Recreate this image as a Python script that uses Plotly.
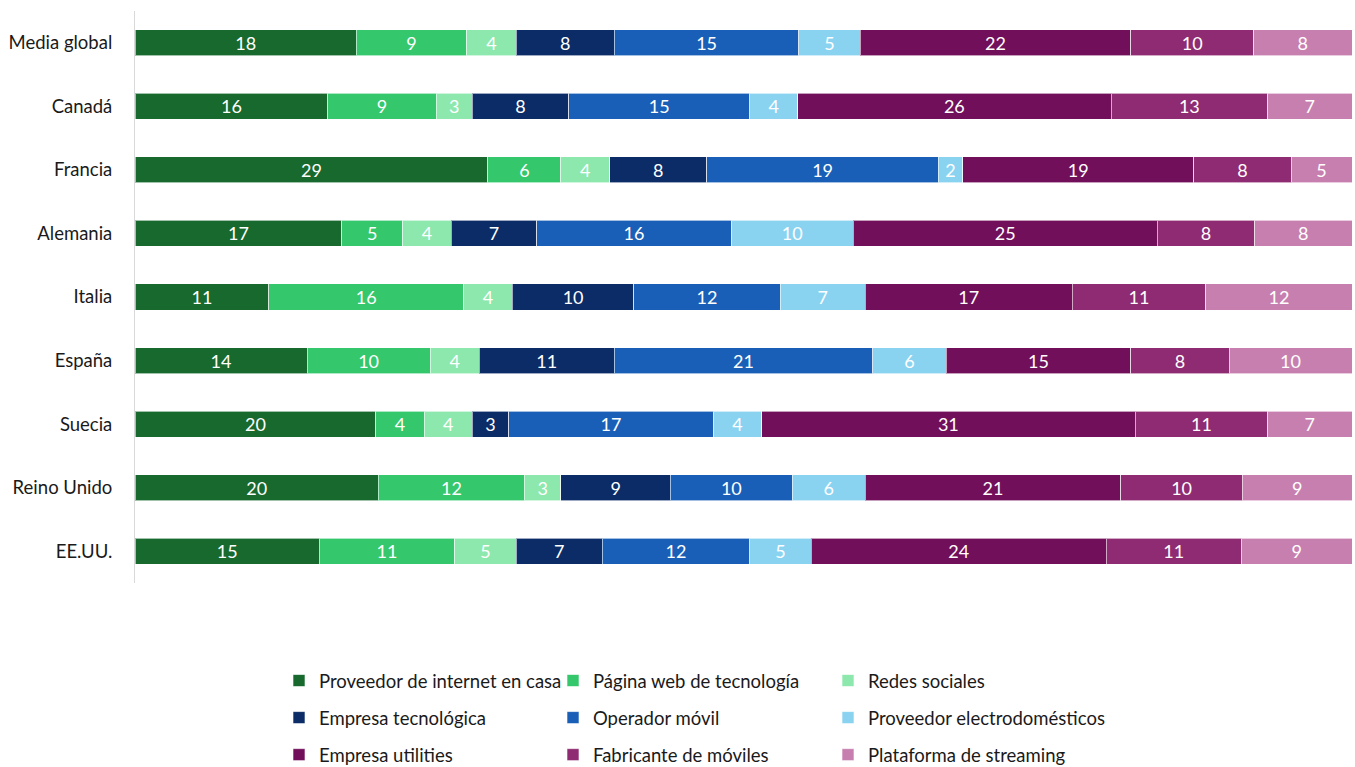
import plotly.graph_objects as go

categories = ["Media global", "Canadá", "Francia", "Alemania", "Italia", "España",
              "Suecia", "Reino Unido", "EE.UU."]

series_names = ["Proveedor de internet en casa", "Página web de tecnología", "Redes sociales",
                "Empresa tecnológica", "Operador móvil", "Proveedor electrodomésticos",
                "Empresa utilities", "Fabricante de móviles", "Plataforma de streaming"]

proveedor_internet = [18, 16, 29, 17, 11, 14, 20, 20, 15]
pagina_web = [9, 9, 6, 5, 16, 10, 4, 12, 11]
redes_sociales = [4, 3, 4, 4, 4, 4, 4, 3, 5]
empresa_tecnologica = [8, 8, 8, 7, 10, 11, 3, 9, 7]
operador_movil = [15, 15, 19, 16, 12, 21, 17, 10, 12]
proveedor_electro = [5, 4, 2, 10, 7, 6, 4, 6, 5]
empresa_utilities = [22, 26, 19, 25, 17, 15, 31, 21, 24]
fabricante_moviles = [10, 13, 8, 8, 11, 8, 11, 10, 11]
plataforma_streaming = [8, 7, 5, 8, 12, 10, 7, 9, 9]

series_values = [proveedor_internet, pagina_web, redes_sociales, empresa_tecnologica,
                 operador_movil, proveedor_electro, empresa_utilities, fabricante_moviles,
                 plataforma_streaming]

colors = ["#17692E", "#34C76B", "#8DE8AE", "#0B2C66", "#195FB7", "#89D3F1",
          "#720F5B", "#8F2B72", "#C77FB0"]

# legend columns (reference reads row by row, three per row)
legend_ids = ["legend", "legend2", "legend3", "legend", "legend2", "legend3",
              "legend", "legend2", "legend3"]

FONT = "Lato"

fig = go.Figure()
for i, (name, vals, col, lg) in enumerate(zip(series_names, series_values, colors, legend_ids)):
    fig.add_trace(go.Bar(
        y=categories, x=vals, name=name, orientation="h",
        marker=dict(color=col, line=dict(color="rgba(255,255,255,0.6)", width=1)),
        text=[str(v) for v in vals], textposition="inside", textangle=0,
        insidetextanchor="middle", constraintext="none",
        textfont=dict(color="white", size=18, family=FONT),
        legend=lg, legendgroup="g%d" % i, hoverinfo="skip",
    ))

leg_common = dict(orientation="v", xanchor="left", yanchor="top",
                  font=dict(size=18.5, family=FONT, color="#1a1a1a"),
                  itemwidth=30, tracegroupgap=10,
                  bgcolor="rgba(0,0,0,0)", traceorder="grouped")

def px_x(px):
    return (px - 135) / 1217.0

def px_y(py):
    return (583 - py) / 572.0

fig.update_layout(
    width=1355, height=767,
    margin=dict(l=135, r=3, t=11, b=184, autoexpand=False),
    barmode="stack", barnorm="percent", bargap=0.59,
    plot_bgcolor="white", paper_bgcolor="white",
    font=dict(family=FONT, size=18, color="#1a1a1a"),
    xaxis=dict(range=[0, 100], showticklabels=False, showgrid=False, zeroline=False,
               showline=False, fixedrange=True),
    yaxis=dict(autorange="reversed", showgrid=False, zeroline=False,
               showline=True, linecolor="#D9D9D9", linewidth=1,
               ticks="outside", ticklen=18, tickcolor="rgba(0,0,0,0)",
               tickfont=dict(size=18.5, family=FONT, color="#1a1a1a")),
    legend=dict(x=px_x(279), y=px_y(662), **leg_common),
    legend2=dict(x=px_x(553), y=px_y(662), **leg_common),
    legend3=dict(x=px_x(828), y=px_y(662), **leg_common),
    showlegend=True,
)

fig.write_html("out.html")
